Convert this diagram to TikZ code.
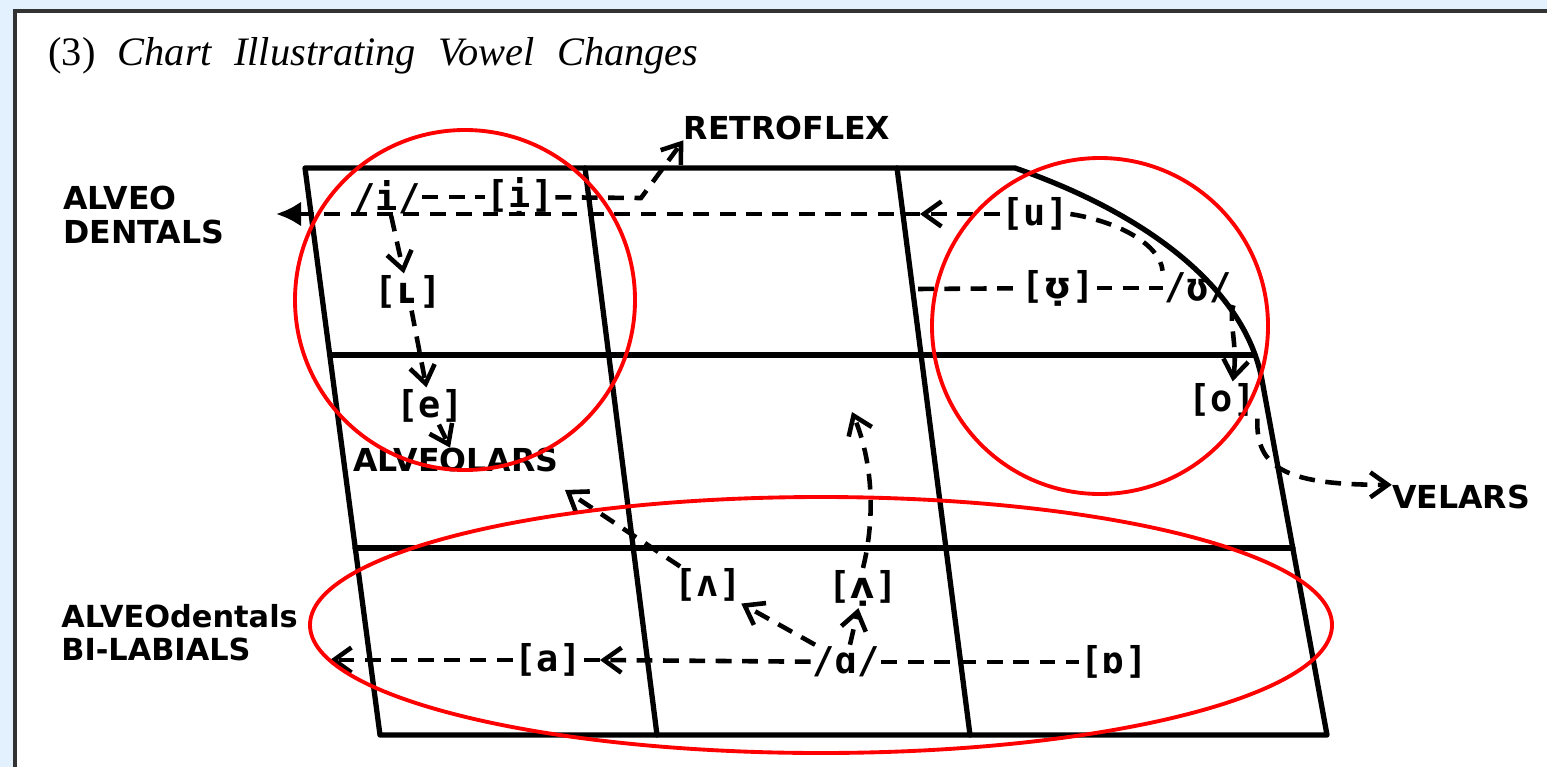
\documentclass[tikz,border=0pt]{standalone}
\usepackage{fontspec}
\usepackage{xcolor}
\usepackage{tikz}
\usetikzlibrary{arrows.meta}
\setmainfont{Liberation Serif}
\newfontfamily\handfont{DejaVu Sans}
\newfontfamily\ipafont{DejaVu Sans Mono}
\definecolor{pagebg}{RGB}{227,240,253}
\newcommand\dotted[1]{{\handfont\bfseries #1}}

\begin{document}
\begin{tikzpicture}[
      x=0.02cm, y=-0.02cm,
      chart/.style={line width=3pt, line join=round, line cap=round},
      dline/.style={line width=2.6pt, dash pattern=on 9pt off 6pt},
      arr/.style={dline, -{Straight Barb[length=3.5mm, width=5mm]}},
      ring/.style={draw=red, line width=2.2pt},
      tag/.style={font=\handfont\bfseries\fontsize{18}{19}\selectfont, align=left, inner sep=0pt},
      ipa/.style={font=\ipafont\bfseries\fontsize{21}{23}\selectfont, inner sep=1pt}
    ]
    \useasboundingbox (0,0) rectangle (1547,767);
    % Page
    \fill[pagebg] (0,0) rectangle (1547,767);
    \fill[white] (15,11) rectangle (1547,767);
    \draw[line width=1.8pt, black!80] (15,767) -- (15,11) -- (1547,11);

    \node[anchor=base west, inner sep=0pt, font=\fontsize{23}{27}\selectfont] (title) at (48,66)
      {\spaceskip=0.55em (3) \textit{Chart Illustrating Vowel Changes}};

    % Chart
    \draw[chart] (305,168) -- (1015,168) .. controls (1150,215) and (1245,290) .. (1262,380)
      -- (1327,735) -- (380,735) -- cycle;
    \draw[chart] (330,355) -- (1255,355);
    \draw[chart] (355,548) -- (1293,548);
    \draw[chart] (585,168) -- (657,735);
    \draw[chart] (897,168) -- (970,735);

    % Nodes
    \node[tag] (retro) at (787,128) {RETROFLEX};
    \node[tag, anchor=north west] (alvdent) at (63,186) {ALVEO\\DENTALS};
    \node[tag] (alveolars) at (456,460) {ALVEOLARS};
    \node[tag] (velars) at (1461,497) {VELARS};
    \node[tag, anchor=north west, font=\handfont\bfseries\fontsize{17.3}{19}\selectfont] (bilab) at (61,604) {ALVEOdentals\\BI-LABIALS};

    \node[ipa] (i) at (387,197) {/i/};
    \node[ipa] (idot) at (520,197) {[ị]};
    \node[ipa] (lsc) at (408,292) {[ʟ]};
    \node[ipa] (e) at (430,406) {[e]};
    \node[ipa] (u) at (1035,214) {[u]};
    \node[ipa] (upsdot) at (1058,288) {[\dotted{ʊ̣}]};
    \node[ipa] (ups) at (1198,288) {/ʊ/};
    \node[ipa] (o) at (1222,400) {[o]};
    \node[ipa] (wedge) at (708,585) {[ʌ]};
    \node[ipa] (wedgedot) at (863,588) {[\dotted{ʌ̣}]};
    \node[ipa] (alpha) at (846,662) {/ɑ/};
    \node[ipa] (a) at (548,660) {[a]};
    \node[ipa] (turned) at (1114,662) {[ɒ]};

    \coordinate (retroBend) at (641,198);
    \coordinate (uJunc) at (920,214);
    \coordinate (dentTip) at (276,214);
    \coordinate (lineB) at (918,289);
    \coordinate (aJunc) at (600,660);
    \coordinate (bilabTip) at (330,660);
    \coordinate (alvTip) at (565,490);
    \coordinate (upTip) at (852,412);

    % Edges
    \draw[dline] (i) -- (idot);
    \draw[arr] (idot) -- (retroBend) -- (retro.south west);
    \draw[arr] (u) -- (uJunc);
    \draw[dline, -{Latex[length=5mm, width=5mm]}] (uJunc) -- (dentTip);
    \draw[arr] (i) -- (lsc);
    \draw[arr] (lsc) -- (e);
    \draw[arr] (e) -- (alveolars);
    \draw[dline] (u.east) .. controls (1120,222) and (1160,245) .. (ups.north west);
    \draw[arr] (ups.south east) .. controls (1228,320) and (1238,345) .. (o.60);
    \draw[dline] (lineB) -- (upsdot);
    \draw[dline] (upsdot) -- (ups);
    \draw[arr] (o.south east) .. controls (1255,470) and (1290,485) .. (velars.170);
    \draw[arr] (alpha) -- (aJunc);
    \draw[dline] (aJunc) -- (a);
    \draw[arr] (a) -- (bilabTip);
    \draw[dline] (alpha) -- (turned);
    \draw[arr] (alpha) -- (wedge);
    \draw[arr] (alpha) -- (wedgedot);
    \draw[arr] (wedge) -- (alvTip);
    \draw[arr] (wedgedot.north) .. controls (876,515) and (872,460) .. (upTip);

    % Red marks
    \draw[ring] (465,300) circle[radius=170];
    \draw[ring] (1100,326) circle[radius=168];
    \draw[ring] (821,625) ellipse[x radius=511, y radius=128];
\end{tikzpicture}
\end{document}
